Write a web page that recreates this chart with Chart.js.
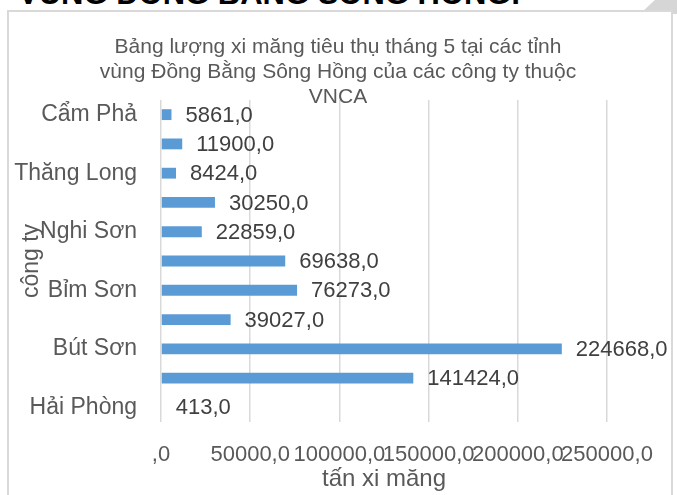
<!DOCTYPE html>
<html>
<head>
<meta charset="utf-8">
<script src="https://cdn.jsdelivr.net/npm/chart.js@4"></script>
<style>
  html, body { margin: 0; padding: 0; background: #fff; overflow: hidden; }
  #page { position: relative; width: 677px; height: 495px; overflow: hidden; }
  #heading {
    position: absolute; left: 18px; top: -24px; line-height: 31px;
    font: bold 31px "Liberation Sans", Arial, sans-serif; color: #000; white-space: nowrap;
  }
  #box {
    position: absolute; left: 7px; top: 10px; width: 662px; height: 500px;
    border: 2px solid #d9d9d9; box-sizing: content-box; background: #fff;
  }
  #corner {
    position: absolute; left: 640px; top: 0; width: 37px; height: 14px; background: #d6d6d6;
    clip-path: polygon(40% 0, 100% 0, 100% 100%, 0 100%);
  }
  #wrap { position: absolute; left: 0; top: 0; width: 677px; height: 495px; }
</style>
</head>
<body>
<div id="page">
  <div id="corner"></div>
  <div id="box"></div>
  <div id="heading">VÙNG ĐỒNG BẰNG SÔNG HỒNG:</div>
  <div id="wrap"><canvas id="chart"></canvas></div>
</div>
<script>
// tiêu đề biểu đồ (3 dòng như trong ảnh)
const titleLines = [
  "Bảng lượng xi măng tiêu thụ tháng 5 tại các tỉnh",
  "vùng Đồng Bằng Sông Hồng của các công ty thuộc",
  "VNCA"
];

// các công ty, từ trên xuống
const companies = [
  "Cẩm Phả", "Hạ Long", "Thăng Long", "Hà Tiên", "Nghi Sơn",
  "Hoàng Mai", "Bỉm Sơn", "Tam Điệp", "Bút Sơn", "Hoàng Thạch", "Hải Phòng"
];

// tấn xi măng
const tonnes = [5861, 11900, 8424, 30250, 22859, 69638, 76273, 39027, 224668, 141424, 413];

const xTicks = [0, 50000, 100000, 150000, 200000, 250000];

const FONT = '"Liberation Sans", Arial, sans-serif';
const fmt = v => (v === 0 ? "" : String(v)) + ",0";

/* ------------ tiêu đề vẽ tay ------------ */
const titlePlugin = {
  id: "titleLines",
  afterDraw(chart) {
    const ctx = chart.ctx;
    ctx.save();
    ctx.fillStyle = "#595959";
    ctx.font = "21px " + FONT;
    ctx.textAlign = "center";
    ctx.textBaseline = "middle";
    titleLines.forEach((t, i) => ctx.fillText(t, 338, 47 + i * 25));
    ctx.restore();
  }
};

/* ------------ nhãn giá trị ------------ */
const valueLabels = {
  id: "valueLabels",
  afterDatasetsDraw(chart) {
    const ctx = chart.ctx;
    const meta = chart.getDatasetMeta(0);
    ctx.save();
    ctx.fillStyle = "#404040";
    ctx.font = "22px " + FONT;
    ctx.textAlign = "left";
    ctx.textBaseline = "middle";
    meta.data.forEach((bar, i) => {
      ctx.fillText(fmt(tonnes[i]), bar.x + 14, bar.y + 1);
    });
    ctx.restore();
  }
};

new Chart(document.getElementById("chart"), {
  type: "bar",
  data: {
    labels: companies,
    datasets: [{
      data: tonnes,
      backgroundColor: "#5b9bd5",
      categoryPercentage: 1,
      barPercentage: 0.37
    }]
  },
  options: {
    indexAxis: "y",
    responsive: true,
    maintainAspectRatio: false,
    animation: false,
    layout: { padding: { left: 14, right: 70, top: 100, bottom: 0 } },
    plugins: { legend: { display: false }, tooltip: { enabled: false }, title: { display: false } },
    scales: {
      x: {
        min: 0, max: 250000,
        afterBuildTicks: s => { s.ticks = xTicks.map(v => ({ value: v })); },
        afterFit: s => { s.height = 73; },
        grid: { color: "#d9d9d9", lineWidth: 1.5, drawTicks: false },
        border: { display: false },
        ticks: {
          autoSkip: false, maxRotation: 0, padding: 20,
          color: "#595959", font: { family: FONT, size: 22 },
          callback: v => fmt(v)
        },
        title: {
          display: true, text: "tấn xi măng", color: "#595959",
          font: { family: FONT, size: 24 }, padding: { top: 0, bottom: 1 }
        }
      },
      y: {
        afterFit: s => { s.width = 161 - 14; },
        grid: { display: false, drawTicks: false },
        border: { display: false },
        ticks: {
          autoSkip: false, padding: 24,
          color: "#595959", font: { family: FONT, size: 23 },
          callback: (v, i) => (i % 2 === 0 ? companies[i] : "")
        },
        title: {
          display: true, text: "công ty", color: "#595959",
          font: { family: FONT, size: 23 }, padding: { top: 4, bottom: 4 }
        }
      }
    }
  },
  plugins: [titlePlugin, valueLabels]
});
</script>
</body>
</html>
